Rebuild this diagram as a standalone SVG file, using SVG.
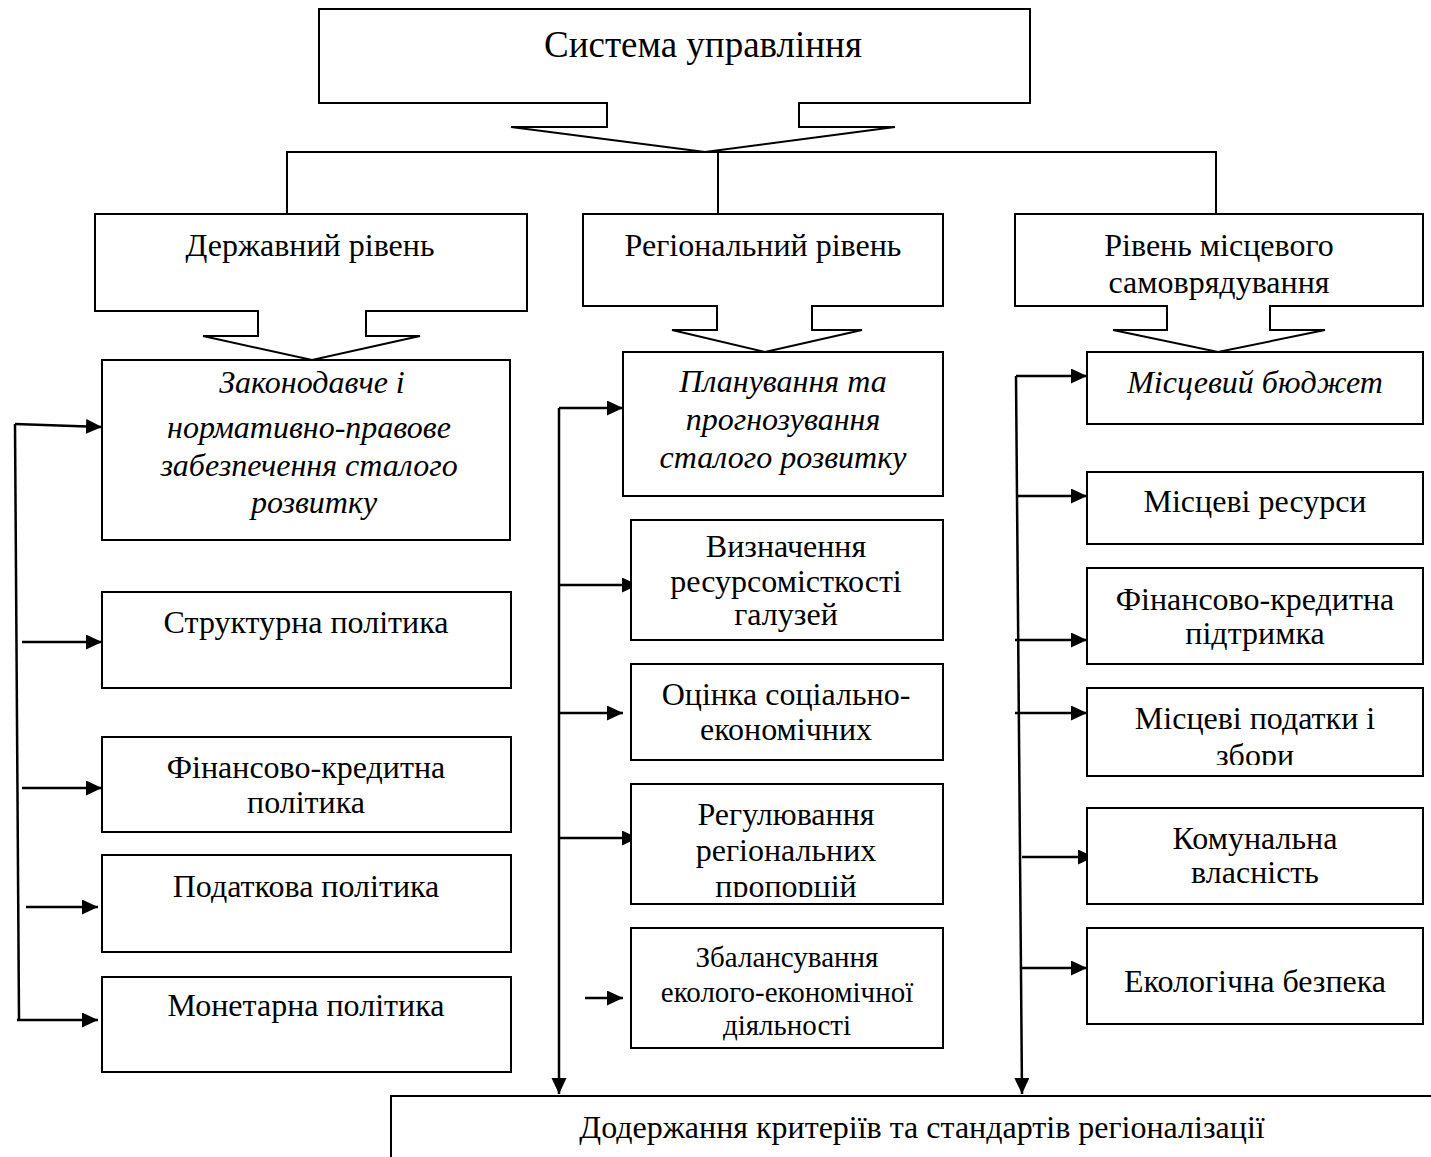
<svg xmlns="http://www.w3.org/2000/svg" width="1431" height="1157" viewBox="0 0 1431 1157">
  <style>
    .box { fill: #fff; stroke: #000; stroke-width: 2; }
    .tab { fill: #fff; stroke: #000; stroke-width: 2; stroke-linejoin: miter; }
    .line { fill: none; stroke: #000; stroke-width: 2; }
    .link { fill: none; stroke: #000; stroke-width: 2.5; }
    .arr { fill: none; stroke: #000; stroke-width: 2.5; marker-end: url(#head); }
    text { font-family: "Liberation Serif", "Times New Roman", serif; fill: #000; text-anchor: middle; }
    .t { font-size: 32px; }
    .ts { font-size: 29px; }
    .ti { font-size: 32px; font-style: italic; }
    .title { font-size: 37px; }
  </style>
  <defs>
    <marker id="head" markerUnits="userSpaceOnUse" markerWidth="17" markerHeight="16" refX="16" refY="7.5" orient="auto">
      <path d="M0,0 L16,7.5 L0,15 Z" fill="#000"/>
    </marker>
    <clipPath id="clipReg"><rect x="631" y="784" width="312" height="113"/></clipPath>
    <clipPath id="clipTax"><rect x="1087" y="688" width="336" height="77"/></clipPath>
  </defs>

  <!-- top node with its arrow-shaped tab -->
  <g id="system">
    <path class="tab" d="M319,9 H1030 V103 H799 V127 H895 L705,152 L511,127 H607 V103 H319 Z"/>
    <text class="title" x="703" y="57">Система управління</text>
  </g>

  <!-- branching from the top node to the three levels -->
  <g id="connectors">
    <path class="line" d="M287,214 V152 H1216 V214 M718,152 V214"/>

    <!-- state level -->
    <path class="link" d="M15,424 L19,1020"/>
    <path class="arr" d="M15,424 L102,427"/>
    <path class="arr" d="M22,642 H102"/>
    <path class="arr" d="M22,788 H102"/>
    <path class="arr" d="M26,907 H98"/>
    <path class="arr" d="M17,1020 H98"/>

    <!-- regional level -->
    <path class="arr" d="M559,408 V1094"/>
    <path class="arr" d="M559,408 H623"/>
    <path class="arr" d="M559,585 H638"/>
    <path class="arr" d="M559,713 H623"/>
    <path class="arr" d="M559,838 H638"/>
    <path class="arr" d="M585,998 H623"/>

    <!-- local self-government level -->
    <path class="arr" d="M1016,376 L1022,1094"/>
    <path class="arr" d="M1016,376 H1087"/>
    <path class="arr" d="M1016,496 H1087"/>
    <path class="arr" d="M1015,640 H1087"/>
    <path class="arr" d="M1015,713 H1087"/>
    <path class="arr" d="M1022,857 H1094"/>
    <path class="arr" d="M1022,968 H1087"/>
  </g>

  <!-- levels -->
  <g id="state-level">
    <path class="tab" d="M95,214 H527 V311 H366 V336 H420 L312,360 L203,336 H258 V311 H95 Z"/>
    <text class="t" x="310" y="256">Державний рівень</text>
  </g>
  <g id="regional-level">
    <path class="tab" d="M583,214 H943 V306 H812 V330 H862 L765,352 L672,330 H717 V306 H583 Z"/>
    <text class="t" x="763" y="256">Регіональний рівень</text>
  </g>
  <g id="local-level">
    <path class="tab" d="M1015,214 H1423 V306 H1270 V330 H1325 L1218,352 L1113,330 H1167 V306 H1015 Z"/>
    <text class="t" x="1219" y="256">Рівень місцевого</text>
    <text class="t" x="1219" y="293">самоврядування</text>
  </g>

  <!-- state level items -->
  <g id="legislation">
    <rect class="box" x="102" y="360" width="408" height="180"/>
    <text class="ti" x="312" y="393">Законодавче і</text>
    <text class="ti" x="309" y="438">нормативно-правове</text>
    <text class="ti" x="309" y="476">забезпечення сталого</text>
    <text class="ti" x="314" y="513">розвитку</text>
  </g>
  <g id="structural">
    <rect class="box" x="102" y="592" width="409" height="96"/>
    <text class="t" x="306" y="633">Структурна політика</text>
  </g>
  <g id="finance-policy">
    <rect class="box" x="102" y="737" width="409" height="95"/>
    <text class="t" x="306" y="778">Фінансово-кредитна</text>
    <text class="t" x="306" y="813">політика</text>
  </g>
  <g id="tax-policy">
    <rect class="box" x="102" y="855" width="409" height="97"/>
    <text class="t" x="306" y="897">Податкова політика</text>
  </g>
  <g id="monetary">
    <rect class="box" x="102" y="977" width="409" height="95"/>
    <text class="t" x="306" y="1016">Монетарна політика</text>
  </g>

  <!-- regional level items -->
  <g id="planning">
    <rect class="box" x="623" y="352" width="320" height="144"/>
    <text class="ti" x="783" y="392">Планування та</text>
    <text class="ti" x="783" y="430">прогнозування</text>
    <text class="ti" x="783" y="468">сталого розвитку</text>
  </g>
  <g id="resource-intensity">
    <rect class="box" x="631" y="520" width="312" height="120"/>
    <text class="t" x="786" y="557">Визначення</text>
    <text class="t" x="786" y="592">ресурсомісткості</text>
    <text class="t" x="786" y="625">галузей</text>
  </g>
  <g id="assessment">
    <rect class="box" x="631" y="664" width="312" height="96"/>
    <text class="t" x="786" y="705">Оцінка соціально-</text>
    <text class="t" x="786" y="740">економічних</text>
  </g>
  <g id="proportions">
    <rect class="box" x="631" y="784" width="312" height="120"/>
    <g clip-path="url(#clipReg)">
      <text class="t" x="786" y="825">Регулювання</text>
      <text class="t" x="786" y="861">регіональних</text>
      <text class="t" x="786" y="897">пропорцій</text>
    </g>
  </g>
  <g id="balancing">
    <rect class="box" x="631" y="928" width="312" height="120"/>
    <text class="ts" x="787" y="967">Збалансування</text>
    <text class="ts" x="787" y="1002">еколого-економічної</text>
    <text class="ts" x="787" y="1035">діяльності</text>
  </g>

  <!-- local level items -->
  <g id="budget">
    <rect class="box" x="1087" y="352" width="336" height="72"/>
    <text class="ti" x="1255" y="393">Місцевий бюджет</text>
  </g>
  <g id="resources">
    <rect class="box" x="1087" y="472" width="336" height="72"/>
    <text class="t" x="1255" y="512">Місцеві ресурси</text>
  </g>
  <g id="credit-support">
    <rect class="box" x="1087" y="568" width="336" height="96"/>
    <text class="t" x="1255" y="610">Фінансово-кредитна</text>
    <text class="t" x="1255" y="644">підтримка</text>
  </g>
  <g id="local-taxes">
    <rect class="box" x="1087" y="688" width="336" height="88"/>
    <g clip-path="url(#clipTax)">
      <text class="t" x="1255" y="729">Місцеві податки і</text>
      <text class="t" x="1255" y="766">збори</text>
    </g>
  </g>
  <g id="communal">
    <rect class="box" x="1087" y="808" width="336" height="96"/>
    <text class="t" x="1255" y="849">Комунальна</text>
    <text class="t" x="1255" y="883">власність</text>
  </g>
  <g id="ecology">
    <rect class="box" x="1087" y="928" width="336" height="96"/>
    <text class="t" x="1255" y="992">Екологічна безпека</text>
  </g>

  <!-- criteria node, open to the right and bottom -->
  <g id="criteria">
    <path class="line" d="M391,1157 V1096 H1431"/>
    <text class="t" x="922" y="1138">Додержання критеріїв та стандартів регіоналізації</text>
  </g>
</svg>
